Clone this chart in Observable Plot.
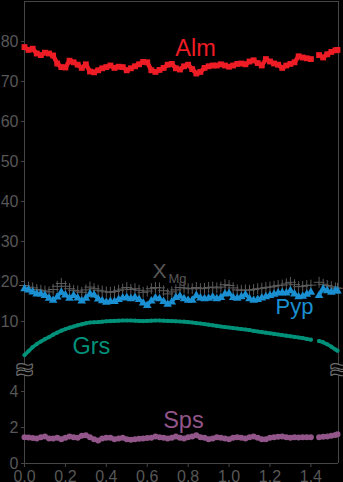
<!DOCTYPE html>
<html>
<head>
<meta charset="utf-8">
<script src="https://cdn.jsdelivr.net/npm/d3@7"></script>
<script src="https://cdn.jsdelivr.net/npm/@observablehq/plot@0.6"></script>
<style>
  html, body { margin: 0; padding: 0; background: #000; }
  #chart { position: relative; width: 343px; height: 482px; overflow: hidden; background: #000; }
  #chart svg { position: absolute; left: 0; }
</style>
</head>
<body>
<div id="chart"></div>
<script>
// Garnet core-to-rim profile: distance (mm) vs. end-member content (mol %)
const distance = [
  0.00, 0.02, 0.04, 0.06, 0.08, 0.10, 0.12, 0.14, 0.16, 0.18,
  0.20, 0.22, 0.24, 0.26, 0.28, 0.30, 0.32, 0.34, 0.36, 0.38,
  0.40, 0.42, 0.44, 0.46, 0.48, 0.50, 0.52, 0.54, 0.56, 0.58,
  0.60, 0.62, 0.64, 0.66, 0.68, 0.70, 0.72, 0.74, 0.76, 0.78,
  0.80, 0.82, 0.84, 0.86, 0.88, 0.90, 0.92, 0.94, 0.96, 0.98,
  1.00, 1.02, 1.04, 1.06, 1.08, 1.10, 1.12, 1.14, 1.16, 1.18,
  1.20, 1.22, 1.24, 1.26, 1.28, 1.30, 1.32, 1.34, 1.36, 1.38,
  1.40, 1.42, 1.44, 1.46, 1.48, 1.50, 1.52, 1.53
];

const alm = [
  78.6, 77.9, 78.2, 77.0, 76.6, 77.2, 77.0, 76.5, 74.5, 73.6,
  73.5, 75.2, 74.8, 74.2, 73.4, 74.3, 72.5, 72.3, 72.8, 73.3,
  73.6, 74.0, 73.4, 73.7, 73.6, 72.8, 73.3, 73.8, 74.3, 74.9,
  74.8, 72.8, 72.4, 72.9, 73.4, 74.2, 74.4, 73.3, 73.0, 73.8,
  74.2, 73.1, 72.0, 72.4, 73.4, 73.8, 74.0, 74.0, 74.3, 74.0,
  73.7, 74.0, 74.4, 74.5, 74.3, 75.0, 75.3, 74.6, 74.0, 75.6,
  75.0, 74.5, 74.2, 73.4, 74.0, 74.4, 74.8, 76.3, 76.0, 75.8,
  75.6, null, 76.6, 76.0, 76.8, 77.4, 77.8, 77.9
];

const xMg = [
  19.0, 18.6, 18.4, 18.0, 17.8, 17.6, 17.4, 18.0, 18.8, 19.5,
  18.8, 18.2, 17.8, 17.6, 17.3, 17.9, 18.6, 18.2, 17.8, 17.6,
  17.4, 17.3, 17.5, 17.8, 18.1, 18.5, 18.0, 18.2, 17.8, 17.3,
  17.6, 18.2, 18.5, 18.4, 17.7, 16.9, 17.4, 17.9, 18.5, 18.4,
  18.2, 18.2, 18.5, 18.2, 18.3, 18.5, 18.6, 18.4, 18.6, 19.2,
  19.0, 18.4, 17.9, 17.8, 17.9, 17.8, 18.0, 18.2, 18.3, 18.5,
  18.6, 18.8, 19.0, 19.1, 19.4, 19.8, 19.2, 18.7, 18.8, 19.0,
  19.1, null, 19.8, 19.3, 19.0, 18.7, 18.4, 18.3
];

const pyp = [
  18.2, 17.9, 17.4, 16.9, 16.9, 16.5, 15.8, 15.3, 16.1, 17.3,
  16.6, 15.8, 16.5, 15.9, 15.1, 15.8, 16.9, 16.6, 15.6, 15.2,
  14.8, 15.0, 15.0, 15.5, 15.9, 16.0, 15.7, 16.0, 15.5, 14.6,
  14.0, 15.1, 15.9, 15.7, 15.0, 14.3, 14.9, 16.0, 16.3, 15.7,
  15.3, 15.3, 16.5, 15.9, 15.7, 15.8, 16.1, 15.7, 16.0, 16.9,
  17.0, 16.0, 15.8, 16.2, 16.7, 15.7, 15.3, 15.5, 15.9, 16.2,
  16.5, 16.8, 17.1, 17.2, 17.1, 17.7, 16.9, 16.2, 16.3, 16.8,
  17.3, null, 16.5, 18.1, 17.7, 17.3, 17.7, 17.6
];

const grs = [
  1.6, 2.6, 3.6, 4.35, 5.0, 5.6, 6.1, 6.7, 7.2, 7.7,
  8.1, 8.45, 8.75, 9.05, 9.3, 9.55, 9.75, 9.8, 9.85, 9.95,
  10.05, 10.1, 10.15, 10.2, 10.25, 10.25, 10.25, 10.2, 10.15, 10.1,
  10.15, 10.2, 10.25, 10.25, 10.2, 10.15, 10.1, 10.05, 10.0, 9.95,
  9.85, 9.75, 9.6, 9.5, 9.35, 9.2, 9.05, 8.9, 8.75, 8.6,
  8.5, 8.35, 8.25, 8.1, 8.0, 7.85, 7.65, 7.5, 7.35, 7.2,
  7.05, 6.9, 6.75, 6.6, 6.45, 6.3, 6.15, 6.0, 5.85, 5.65,
  5.45, null, 5.1, 4.8, 4.3, 3.7, 3.0, 2.7
];

const sps = [
  1.46, 1.44, 1.41, 1.39, 1.46, 1.50, 1.39, 1.39, 1.43, 1.35,
  1.43, 1.50, 1.46, 1.43, 1.54, 1.57, 1.46, 1.35, 1.28, 1.39,
  1.43, 1.43, 1.35, 1.39, 1.43, 1.35, 1.32, 1.35, 1.37, 1.39,
  1.41, 1.43, 1.50, 1.46, 1.43, 1.39, 1.43, 1.50, 1.43, 1.39,
  1.46, 1.50, 1.57, 1.46, 1.43, 1.35, 1.39, 1.46, 1.43, 1.39,
  1.35, 1.43, 1.46, 1.43, 1.39, 1.46, 1.50, 1.43, 1.35, 1.35,
  1.43, 1.46, 1.48, 1.50, 1.46, 1.43, 1.46, 1.44, 1.46, 1.46,
  1.46, null, 1.46, 1.48, 1.50, 1.54, 1.59, 1.62
];

const upperTicks = [10, 20, 30, 40, 50, 60, 70, 80];
const lowerTicks = [0, 2, 4];
const xTicks = [0, 0.2, 0.4, 0.6, 0.8, 1.0, 1.2, 1.4];

const xMax = 1.535;
const upperMax = 90;
const lowerMax = 5;

const FONT = "'Liberation Sans', Arial, Helvetica, sans-serif";
const AXIS = "#454545";
const TEXT = "#575757";
const C = {
  alm: "#ee1c25",
  pyp: "#1a8fd2",
  xmg: "#5a5a5a",
  grs: "#00917a",
  sps: "#93568a"
};

const rows = distance.map((d, i) => ({
  d, alm: alm[i], xMg: xMg[i], pyp: pyp[i], grs: grs[i], sps: sps[i]
}));

const label = (txt, x, y, fill, fontSize, textAnchor = "middle") =>
  Plot.text([txt], {x, y, text: d => d, fill, fontSize, textAnchor, lineAnchor: "middle"});

const upper = Plot.plot({
  width: 343,
  height: 361,
  marginLeft: 24,
  marginRight: 5,
  marginTop: 1,
  marginBottom: 0,
  x: {domain: [0, xMax], axis: null},
  y: {domain: [0, upperMax]},
  style: {background: "transparent", color: TEXT, fontFamily: FONT, fontSize: "16px"},
  marks: [
    Plot.ruleY([upperMax], {x1: 0, x2: xMax, stroke: AXIS}),
    Plot.ruleX([0, xMax], {y1: 0, y2: upperMax, stroke: AXIS}),
    Plot.axisY({ticks: upperTicks, tickFormat: d => String(d), label: null, tickSize: 3, tickPadding: 3, fontSize: 16, stroke: AXIS, fill: TEXT}),
    // Mg-number crosses
    Plot.dot(rows, {x: "d", y: "xMg", symbol: "plus", r: 3.6, stroke: C.xmg, strokeWidth: 1}),
    // pyrope
    Plot.line(rows, {x: "d", y: "pyp", stroke: C.pyp, strokeWidth: 3}),
    Plot.dot(rows, {x: "d", y: "pyp", symbol: "triangle", r: 3.2, fill: C.pyp}),
    // grossular
    Plot.line(rows, {x: "d", y: "grs", stroke: C.grs, strokeWidth: 3.6}),
    Plot.dot(rows, {x: "d", y: "grs", symbol: "circle", r: 2.1, fill: C.grs}),
    // almandine
    Plot.line(rows, {x: "d", y: "alm", stroke: C.alm, strokeWidth: 4.5}),
    Plot.dot(rows, {x: "d", y: "alm", symbol: "square", r: 3.3, fill: C.alm}),
    label("Alm", 0.836, 78.35, C.alm, 23.5),
    label("X", 0.626, 22.68, TEXT, 21, "start"),
    label("Mg", 0.704, 20.68, TEXT, 13, "start"),
    label("Pyp", 1.32, 13.68, C.pyp, 22),
    label("Grs", 0.327, 3.85, C.grs, 23.5)
  ]
});
upper.style.top = "0px";

const lower = Plot.plot({
  width: 343,
  height: 121,
  marginLeft: 24,
  marginRight: 5,
  marginTop: 12,
  marginBottom: 19,
  x: {domain: [0, xMax]},
  y: {domain: [0, lowerMax]},
  style: {background: "transparent", color: TEXT, fontFamily: FONT, fontSize: "16px", overflow: "visible"},
  marks: [
    Plot.ruleX([0, xMax], {y1: 0, y2: 5.66, stroke: AXIS}),
    Plot.ruleY([0], {x1: 0, x2: xMax, stroke: AXIS}),
    Plot.axisY({ticks: lowerTicks, tickFormat: d => String(d), label: null, tickSize: 3, tickPadding: 3, fontSize: 16, stroke: AXIS, fill: TEXT}),
    Plot.axisX({ticks: xTicks, tickFormat: ".1f", label: null, tickSize: 4, tickPadding: 3.5, fontSize: 16, stroke: AXIS, fill: TEXT}),
    // spessartine
    Plot.line(rows, {x: "d", y: "sps", stroke: C.sps, strokeWidth: 4}),
    Plot.dot(rows, {x: "d", y: "sps", symbol: "circle", r: 3, fill: C.sps}),
    label("Sps", 0.777, 2.39, C.sps, 23.5),
    // axis-break marks on both vertical frame lines
    Plot.text([0, xMax], {x: d => d, y: 5.17, text: () => "≈", fontSize: 28, fontWeight: "bold", fill: "#000", stroke: "#6e6e6e", strokeWidth: 2.4, textAnchor: "middle", lineAnchor: "middle"})
  ]
});
lower.style.top = "361px";

const chart = document.getElementById("chart");
chart.append(upper, lower);
</script>
</body>
</html>
